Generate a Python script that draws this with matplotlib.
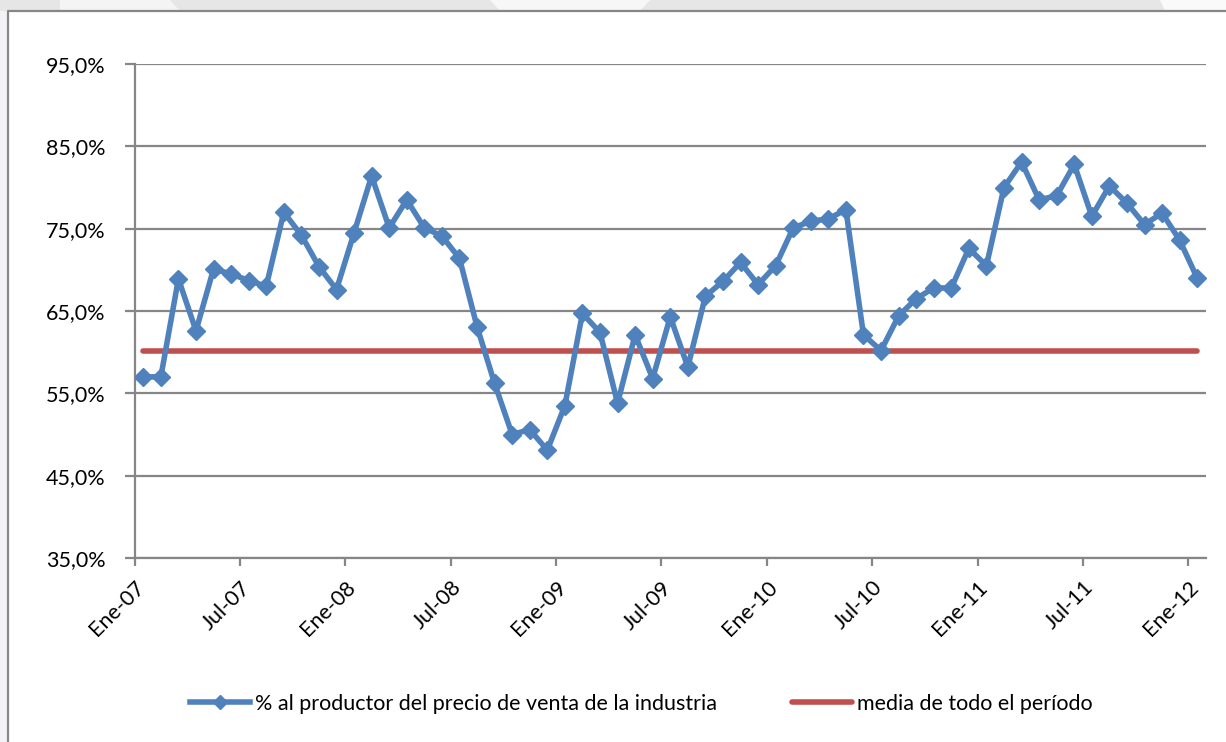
import matplotlib.pyplot as plt
from matplotlib.patches import Rectangle, Polygon
from matplotlib.lines import Line2D
from matplotlib.transforms import ScaledTranslation
import numpy as np

# Monthly values, Ene-07 .. Ene-12 (61 months)
meses = ['Ene-07', 'Jul-07', 'Ene-08', 'Jul-08', 'Ene-09', 'Jul-09',
         'Ene-10', 'Jul-10', 'Ene-11', 'Jul-11', 'Ene-12']
porcentaje = [57.0, 57.0, 68.9, 62.6, 70.1, 69.5, 68.7, 68.0, 77.0, 74.2,
              70.4, 67.6, 74.5, 81.4, 75.1, 78.5, 75.1, 74.1, 71.4, 63.1,
              56.2, 50.0, 50.6, 48.1, 53.5, 64.7, 62.4, 53.8, 62.1, 56.8,
              64.3, 58.2, 66.8, 68.6, 70.9, 68.2, 70.5, 75.1, 75.9, 76.2,
              77.3, 62.1, 60.2, 64.4, 66.5, 67.8, 67.8, 72.6, 70.5, 80.0,
              83.1, 78.5, 79.0, 82.8, 76.5, 80.2, 78.1, 75.5, 76.9, 73.6,
              69.0]
media = 60.2

azul = '#4F81BD'
rojo = '#C0504D'
gris = '#868686'

plt.rcParams['font.family'] = ['Lato', 'DejaVu Sans']

W, H = 1226, 742
fig = plt.figure(figsize=(W / 100, H / 100), dpi=100)

# background strips / chart border
fig.patches.append(Rectangle((0, 1 - 11 / H), 1, 11 / H, transform=fig.transFigure,
                             facecolor='#e6e6e6', edgecolor='none', zorder=0))
fig.patches.append(Polygon([(60 / W, 1), (170 / W, 1), (180 / W, 1 - 11 / H), (60 / W, 1 - 11 / H)],
                           closed=True, transform=fig.transFigure,
                           facecolor='#f4f4f4', edgecolor='none', zorder=0))
fig.patches.append(Polygon([(490 / W, 1), (650 / W, 1), (640 / W, 1 - 11 / H), (500 / W, 1 - 11 / H)],
                           closed=True, transform=fig.transFigure,
                           facecolor='#f7f7f7', edgecolor='none', zorder=0))
fig.patches.append(Polygon([(1160 / W, 1), (W / W, 1), (W / W, 1 - 11 / H), (1165 / W, 1 - 11 / H)],
                           closed=True, transform=fig.transFigure,
                           facecolor='#fafafa', edgecolor='none', zorder=0))
fig.patches.append(Rectangle((0, 0), 8 / W, 1 - 11 / H, transform=fig.transFigure,
                             facecolor='#f3f3f5', edgecolor='none', zorder=0))
fig.lines.append(Line2D([8 / W, 8 / W, 1], [0, 1 - 11 / H, 1 - 11 / H],
                        transform=fig.transFigure, color=gris, lw=1.6))

ax = fig.add_axes([134.5 / W, 1 - 558 / H, (1206 - 134.5) / W, (558 - 64) / H])

x = np.arange(len(porcentaje))
ax.plot(x, porcentaje, color=azul, lw=4, marker='D', ms=9,
        markerfacecolor=azul, markeredgecolor=azul, solid_joinstyle='round',
        zorder=3, label='% al productor del precio de venta de la industria')
ax.plot([x[0], x[-1]], [media, media], color=rojo, lw=4, solid_capstyle='round',
        zorder=2, label='media de todo el período')

ax.set_xlim(-0.5, len(porcentaje) - 0.5)
ax.set_ylim(35, 95)
yt = np.arange(35, 96, 10)
ax.set_yticks(yt)
ax.set_yticklabels([f'{v:.1f}%'.replace('.', ',') for v in yt], fontsize=15.5)
ax.yaxis.grid(True, color=gris, lw=1.6)
ax.set_axisbelow(True)

xt = np.arange(0, len(porcentaje), 6) - 0.5
ax.set_xticks(xt)
ax.set_xticklabels(meses, fontsize=15.5, rotation=45, ha='right', rotation_mode='anchor')
shift = ScaledTranslation(10 / 100, 0, fig.dpi_scale_trans)
for lab in ax.get_xticklabels():
    lab.set_transform(lab.get_transform() + shift)

for s in ['top', 'right']:
    ax.spines[s].set_visible(False)
for s in ['left', 'bottom']:
    ax.spines[s].set_color(gris)
    ax.spines[s].set_linewidth(1.6)
ax.tick_params(axis='y', length=7, width=1.6, color=gris, pad=14)
ax.tick_params(axis='x', length=6, width=1.6, color=gris, pad=8)

fig.legend(loc='center', bbox_to_anchor=(0.523, 1 - 704 / H), ncol=2, frameon=False,
           fontsize=15.5, handlelength=2.8, columnspacing=3.5, handletextpad=0.2,
           markerscale=0.8)

fig.savefig('out.png', dpi=100)
